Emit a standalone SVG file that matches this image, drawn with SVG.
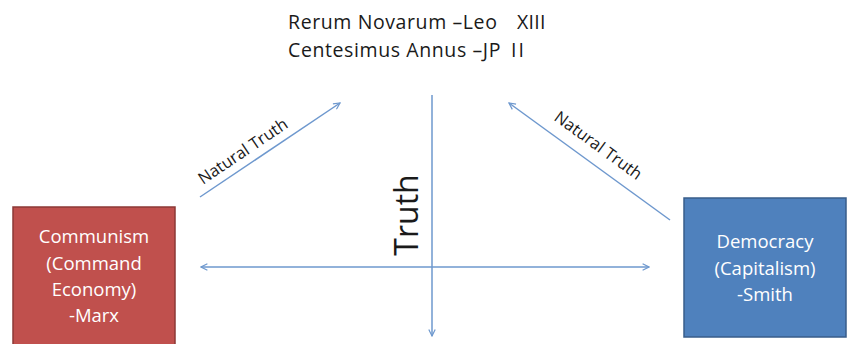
<svg xmlns="http://www.w3.org/2000/svg" width="850" height="344" viewBox="0 0 850 344">
<style>
.box-text{font-family:"Open Sans","Liberation Sans",sans-serif;font-size:18.5px;fill:#ffffff;text-anchor:middle}
.lbl{font-family:"Open Sans","Liberation Sans",sans-serif;fill:#1a1a1a}
.title{font-size:19.5px;letter-spacing:0.6px}
.conn{stroke:#6E98CE;stroke-width:1.5;fill:none}
</style>
<defs>
<marker id="arr" viewBox="0 0 10 10" refX="9" refY="5" markerWidth="8" markerHeight="8" orient="auto-start-reverse" markerUnits="userSpaceOnUse">
<path d="M1,1 L9,5 L1,9" fill="none" stroke="#6E98CE" stroke-width="1.5"/>
</marker>
</defs>
<rect width="850" height="344" fill="#ffffff"/>
<g id="title">
<text class="lbl title" x="288" y="29">Rerum Novarum –Leo</text>
<text class="lbl title" x="517" y="29" style="letter-spacing:0.3px">XIII</text>
<text class="lbl title" x="288" y="57">Centesimus Annus –JP</text>
<text class="lbl title" x="511" y="57" style="letter-spacing:2px">II</text>
</g>
<g id="connectors">
<line class="conn" x1="432" y1="95" x2="432" y2="336" marker-end="url(#arr)"/>
<line class="conn" x1="201" y1="267" x2="649" y2="267" marker-start="url(#arr)" marker-end="url(#arr)"/>
<line class="conn" x1="200" y1="197" x2="340" y2="103" marker-end="url(#arr)"/>
<line class="conn" x1="670" y1="220" x2="509" y2="103" marker-end="url(#arr)"/>
<text class="lbl" font-size="16.5" text-anchor="middle" transform="translate(246,156) rotate(-34)">Natural Truth</text>
<text class="lbl" font-size="16.5" text-anchor="middle" transform="translate(595,150) rotate(36)">Natural Truth</text>
<text class="lbl" font-size="32" text-anchor="middle" transform="translate(418,215) rotate(-90)" fill="#000">Truth</text>
</g>
<g id="communism">
<rect x="13" y="207" width="162" height="145" fill="#C0504D" stroke="#8C3836" stroke-width="1.5"/>
<text class="box-text" x="94" y="243">Communism</text>
<text class="box-text" x="94" y="270">(Command</text>
<text class="box-text" x="94" y="296">Economy)</text>
<text class="box-text" x="94" y="322">-Marx</text>
</g>
<g id="democracy">
<rect x="684" y="198" width="162" height="139" fill="#4F81BD" stroke="#385D8A" stroke-width="1.5"/>
<text class="box-text" x="765" y="248">Democracy</text>
<text class="box-text" x="765" y="275">(Capitalism)</text>
<text class="box-text" x="765" y="301">-Smith</text>
</g>
</svg>
